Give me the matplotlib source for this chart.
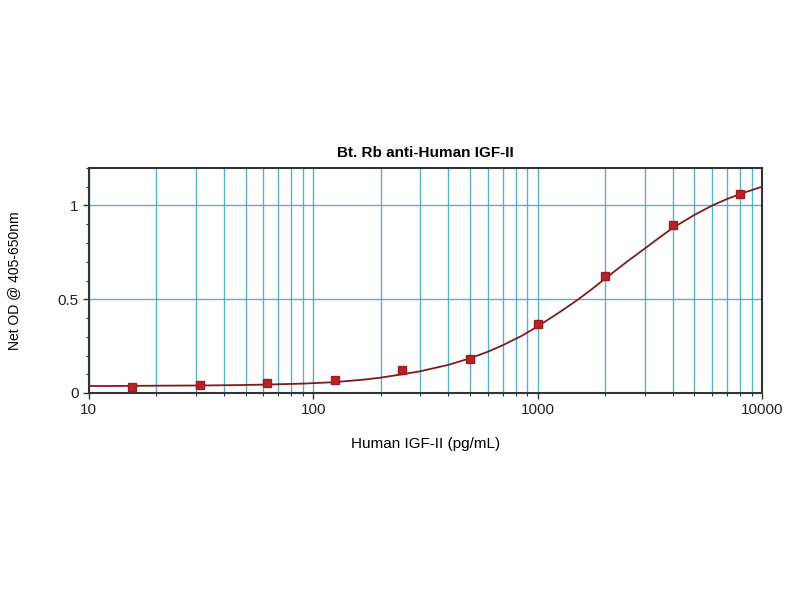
import matplotlib.pyplot as plt
from matplotlib.ticker import MultipleLocator, LogLocator

plt.rcParams['font.family'] = ['Liberation Sans', 'DejaVu Sans']

# standard points (pg/mL) and net OD
conc = [15.6, 31.25, 62.5, 125, 250, 500, 1000, 2000, 4000, 8000]
od = [0.034, 0.043, 0.052, 0.068, 0.122, 0.181, 0.369, 0.625, 0.894, 1.063]

# fitted curve
curve_x = [10, 15.6, 20, 31, 45, 62, 90, 125, 170, 200, 250, 300, 400, 500, 600, 700, 850,
           1000, 1250, 1500, 1750, 2000, 2500, 3000, 3500, 4000, 5000, 6000, 7000, 8000, 10000]
curve_y = [0.037, 0.038, 0.039, 0.040, 0.042, 0.045, 0.050, 0.058, 0.072, 0.082, 0.100, 0.116,
           0.150, 0.185, 0.220, 0.255, 0.305, 0.355, 0.430, 0.495, 0.555, 0.610, 0.700, 0.770,
           0.830, 0.880, 0.950, 1.000, 1.035, 1.062, 1.100]

grid_col = '#5cb0c4'

fig = plt.figure(figsize=(8, 6), dpi=100)
ax = fig.add_axes([0.111, 0.345, 0.8415, 0.375])

ax.plot(curve_x, curve_y, color='#7e1c1c', linewidth=1.3, zorder=3)
ax.plot(conc, od, linestyle='none', marker='s', markersize=6,
        color='#b5242a', markeredgecolor='#a01c22', zorder=4)

ax.set_xscale('log')
ax.set_xlim(10, 10000)
ax.set_ylim(0, 1.2)
ax.set_yticks([0, 0.5, 1])
ax.set_yticklabels(['0', '0.5', '1'])
ax.yaxis.set_minor_locator(MultipleLocator(0.1))
ax.set_xticks([10, 100, 1000, 10000])
ax.set_xticklabels(['10', '100', '1000', '10000'])
ax.xaxis.set_minor_locator(LogLocator(base=10, subs=range(2, 10), numticks=20))
ax.xaxis.set_minor_formatter(plt.NullFormatter())

ax.grid(which='both', axis='x', color=grid_col, linewidth=1.0)
ax.grid(which='major', axis='y', color=grid_col, linewidth=1.0)
ax.set_axisbelow(True)

for s in ax.spines.values():
    s.set_color('#333333')
    s.set_linewidth(1.5)
ax.tick_params(which='major', length=4, width=1, colors='#333333', labelsize=11, labelcolor='#222222')
ax.tick_params(which='minor', length=2, width=0.8, colors='#333333')

ax.set_title('Bt. Rb anti-Human IGF-II', fontsize=11, fontweight='bold', pad=8)
ax.set_xlabel('Human IGF-II (pg/mL)', fontsize=11, labelpad=14)
ax.set_ylabel('Net OD @ 405-650nm', fontsize=10, labelpad=26)

fig.savefig('out.png', dpi=100)
